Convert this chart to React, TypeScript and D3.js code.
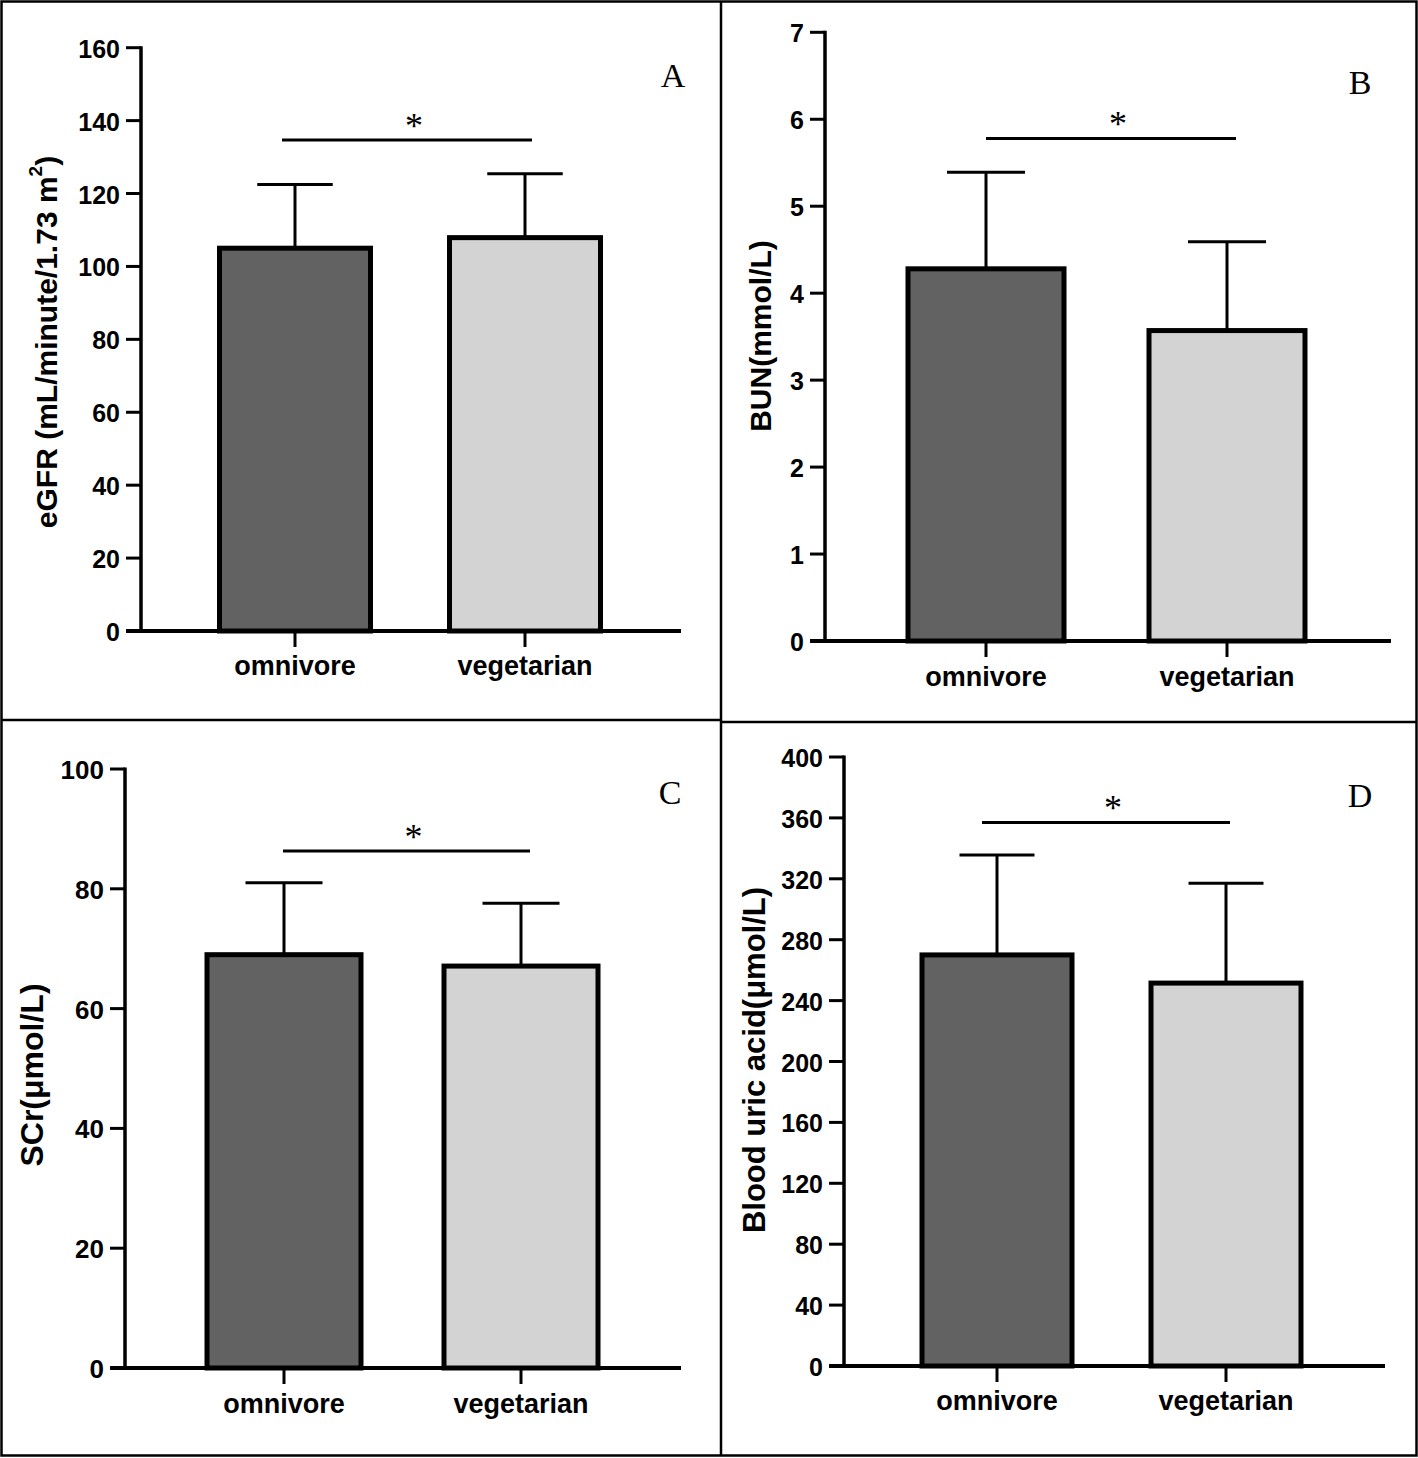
import React from "react";
import * as d3 from "d3";

const categories = ["omnivore", "vegetarian"];

const egfrMean = [105.0, 107.9];
const egfrSD = [17.5, 17.5];
const egfrTicks = [0, 20, 40, 60, 80, 100, 120, 140, 160];
const egfrSig = 134.7;

const bunMean = [4.28, 3.57];
const bunSD = [1.11, 1.02];
const bunTicks = [0, 1, 2, 3, 4, 5, 6, 7];
const bunSig = 5.78;

const scrMean = [69.0, 67.1];
const scrSD = [12.0, 10.5];
const scrTicks = [0, 20, 40, 60, 80, 100];
const scrSig = 86.3;

const uaMean = [270.0, 251.5];
const uaSD = [65.6, 65.5];
const uaTicks = [0, 40, 80, 120, 160, 200, 240, 280, 320, 360, 400];
const uaSig = 357;

const fills = ["#626262", "#d3d3d3"];

type Panel = {
  letter: string;
  yLabel: React.ReactNode;
  mean: number[];
  sd: number[];
  ticks: number[];
  sig: number;
  // layout
  axisX: number;
  y0: number;
  yTop: number;
  xEnd: number;
  centers: number[];
  barW: number;
  sigX: [number, number];
  labelX: number;
  labelY: number;
  labelFont: number;
  xLabelY: number;
  letterX: number;
  letterY: number;
  tickFont: number;
};

const panels: Panel[] = [
  {
    letter: "A",
    yLabel: (
      <>
        eGFR (mL/minute/1.73 m<tspan dy={-11} fontSize={19}>2</tspan>
        <tspan dy={11}>)</tspan>
      </>
    ),
    mean: egfrMean, sd: egfrSD, ticks: egfrTicks, sig: egfrSig,
    axisX: 141, y0: 631, yTop: 47.7, xEnd: 681, centers: [295, 525], barW: 151,
    sigX: [282, 532], labelX: 46, labelY: 342, labelFont: 30, xLabelY: 675, letterX: 673, letterY: 87, tickFont: 25,
  },
  {
    letter: "B",
    yLabel: "BUN(mmol/L)",
    mean: bunMean, sd: bunSD, ticks: bunTicks, sig: bunSig,
    axisX: 825, y0: 641, yTop: 32.3, xEnd: 1391, centers: [986, 1227], barW: 156,
    sigX: [986, 1236], labelX: 760, labelY: 336, labelFont: 30, xLabelY: 686, letterX: 1360, letterY: 94, tickFont: 25,
  },
  {
    letter: "C",
    yLabel: "SCr(μmol/L)",
    mean: scrMean, sd: scrSD, ticks: scrTicks, sig: scrSig,
    axisX: 125, y0: 1368, yTop: 769, xEnd: 681, centers: [284, 521], barW: 154,
    sigX: [283, 530], labelX: 32, labelY: 1075, labelFont: 32, xLabelY: 1413, letterX: 670, letterY: 804, tickFont: 26,
  },
  {
    letter: "D",
    yLabel: "Blood uric acid(μmol/L)",
    mean: uaMean, sd: uaSD, ticks: uaTicks, sig: uaSig,
    axisX: 844, y0: 1366, yTop: 757, xEnd: 1385, centers: [997, 1226], barW: 150,
    sigX: [982, 1230], labelX: 754, labelY: 1060, labelFont: 31, xLabelY: 1410, letterX: 1360, letterY: 807, tickFont: 25,
  },
];

const sans = "'Liberation Sans', Arial, sans-serif";
const serif = "'Liberation Serif', 'Times New Roman', serif";

function ChartPanel({ p }: { p: Panel }) {
  const maxTick = p.ticks[p.ticks.length - 1];
  const y = d3.scaleLinear().domain([0, maxTick]).range([p.y0, p.yTop]);
  const x = d3.scaleOrdinal<string, number>().domain(categories).range(p.centers);
  const sigY = y(p.sig);
  return (
    <g>
      {/* bars */}
      {categories.map((c, i) => {
        const cx = x(c);
        const top = y(p.mean[i]);
        const errTop = y(p.mean[i] + p.sd[i]);
        const capW = p.barW * 0.5;
        return (
          <g key={c}>
            <line x1={cx} x2={cx} y1={top} y2={errTop} stroke="#000" strokeWidth={3} />
            <line x1={cx - capW / 2} x2={cx + capW / 2} y1={errTop} y2={errTop} stroke="#000" strokeWidth={3} />
            <rect x={cx - p.barW / 2} y={top} width={p.barW} height={p.y0 - top}
              fill={fills[i]} stroke="#000" strokeWidth={5} />
          </g>
        );
      })}
      {/* y axis */}
      <line x1={p.axisX} x2={p.axisX} y1={y(maxTick) - 1.5} y2={p.y0} stroke="#000" strokeWidth={3.5} />
      {p.ticks.map((t) => (
        <g key={t}>
          <line x1={p.axisX - 15} x2={p.axisX} y1={y(t)} y2={y(t)} stroke="#000" strokeWidth={3} />
          <text x={p.axisX - 21} y={y(t) + 1} textAnchor="end" dominantBaseline="central"
            fontFamily={sans} fontWeight="bold" fontSize={p.tickFont} fill="#000">{t}</text>
        </g>
      ))}
      {/* x axis */}
      <line x1={p.axisX - 15} x2={p.xEnd} y1={p.y0} y2={p.y0} stroke="#000" strokeWidth={4} />
      {categories.map((c) => (
        <g key={c}>
          <line x1={x(c)} x2={x(c)} y1={p.y0} y2={p.y0 + 16} stroke="#000" strokeWidth={3} />
          <text x={x(c)} y={p.xLabelY} textAnchor="middle" fontFamily={sans} fontWeight="bold"
            fontSize={27} fill="#000">{c}</text>
        </g>
      ))}
      {/* y label */}
      <text transform={`translate(${p.labelX},${p.labelY}) rotate(-90)`} textAnchor="middle"
        dominantBaseline="central" fontFamily={sans} fontWeight="bold" fontSize={p.labelFont} fill="#000">
        {p.yLabel}
      </text>
      {/* significance */}
      <line x1={p.sigX[0]} x2={p.sigX[1]} y1={sigY} y2={sigY} stroke="#000" strokeWidth={3} />
      <text x={(p.sigX[0] + p.sigX[1]) / 2 + 7} y={sigY - 2} textAnchor="middle" fontFamily={serif}
        fontSize={36} fill="#000">*</text>
      {/* panel letter */}
      <text x={p.letterX} y={p.letterY} textAnchor="middle" fontFamily={serif} fontSize={34} fill="#000">
        {p.letter}
      </text>
    </g>
  );
}

export default function App() {
  const W = 1418;
  const H = 1458;
  return (
    <svg width={W} height={H} style={{ position: "absolute", left: 0, top: 0, background: "#fff" }}>
      <rect x={0} y={0} width={W} height={H} fill="#fff" />
      {panels.map((p) => (
        <ChartPanel key={p.letter} p={p} />
      ))}
      {/* borders */}
      <rect x={1.5} y={1.5} width={1415} height={1454} fill="none" stroke="#000" strokeWidth={2.5} />
      <line x1={721} x2={721} y1={1} y2={1456} stroke="#000" strokeWidth={2.5} />
      <line x1={1} x2={721} y1={720} y2={720} stroke="#000" strokeWidth={2.5} />
      <line x1={721} x2={1417} y1={722} y2={722} stroke="#000" strokeWidth={2.5} />
    </svg>
  );
}
